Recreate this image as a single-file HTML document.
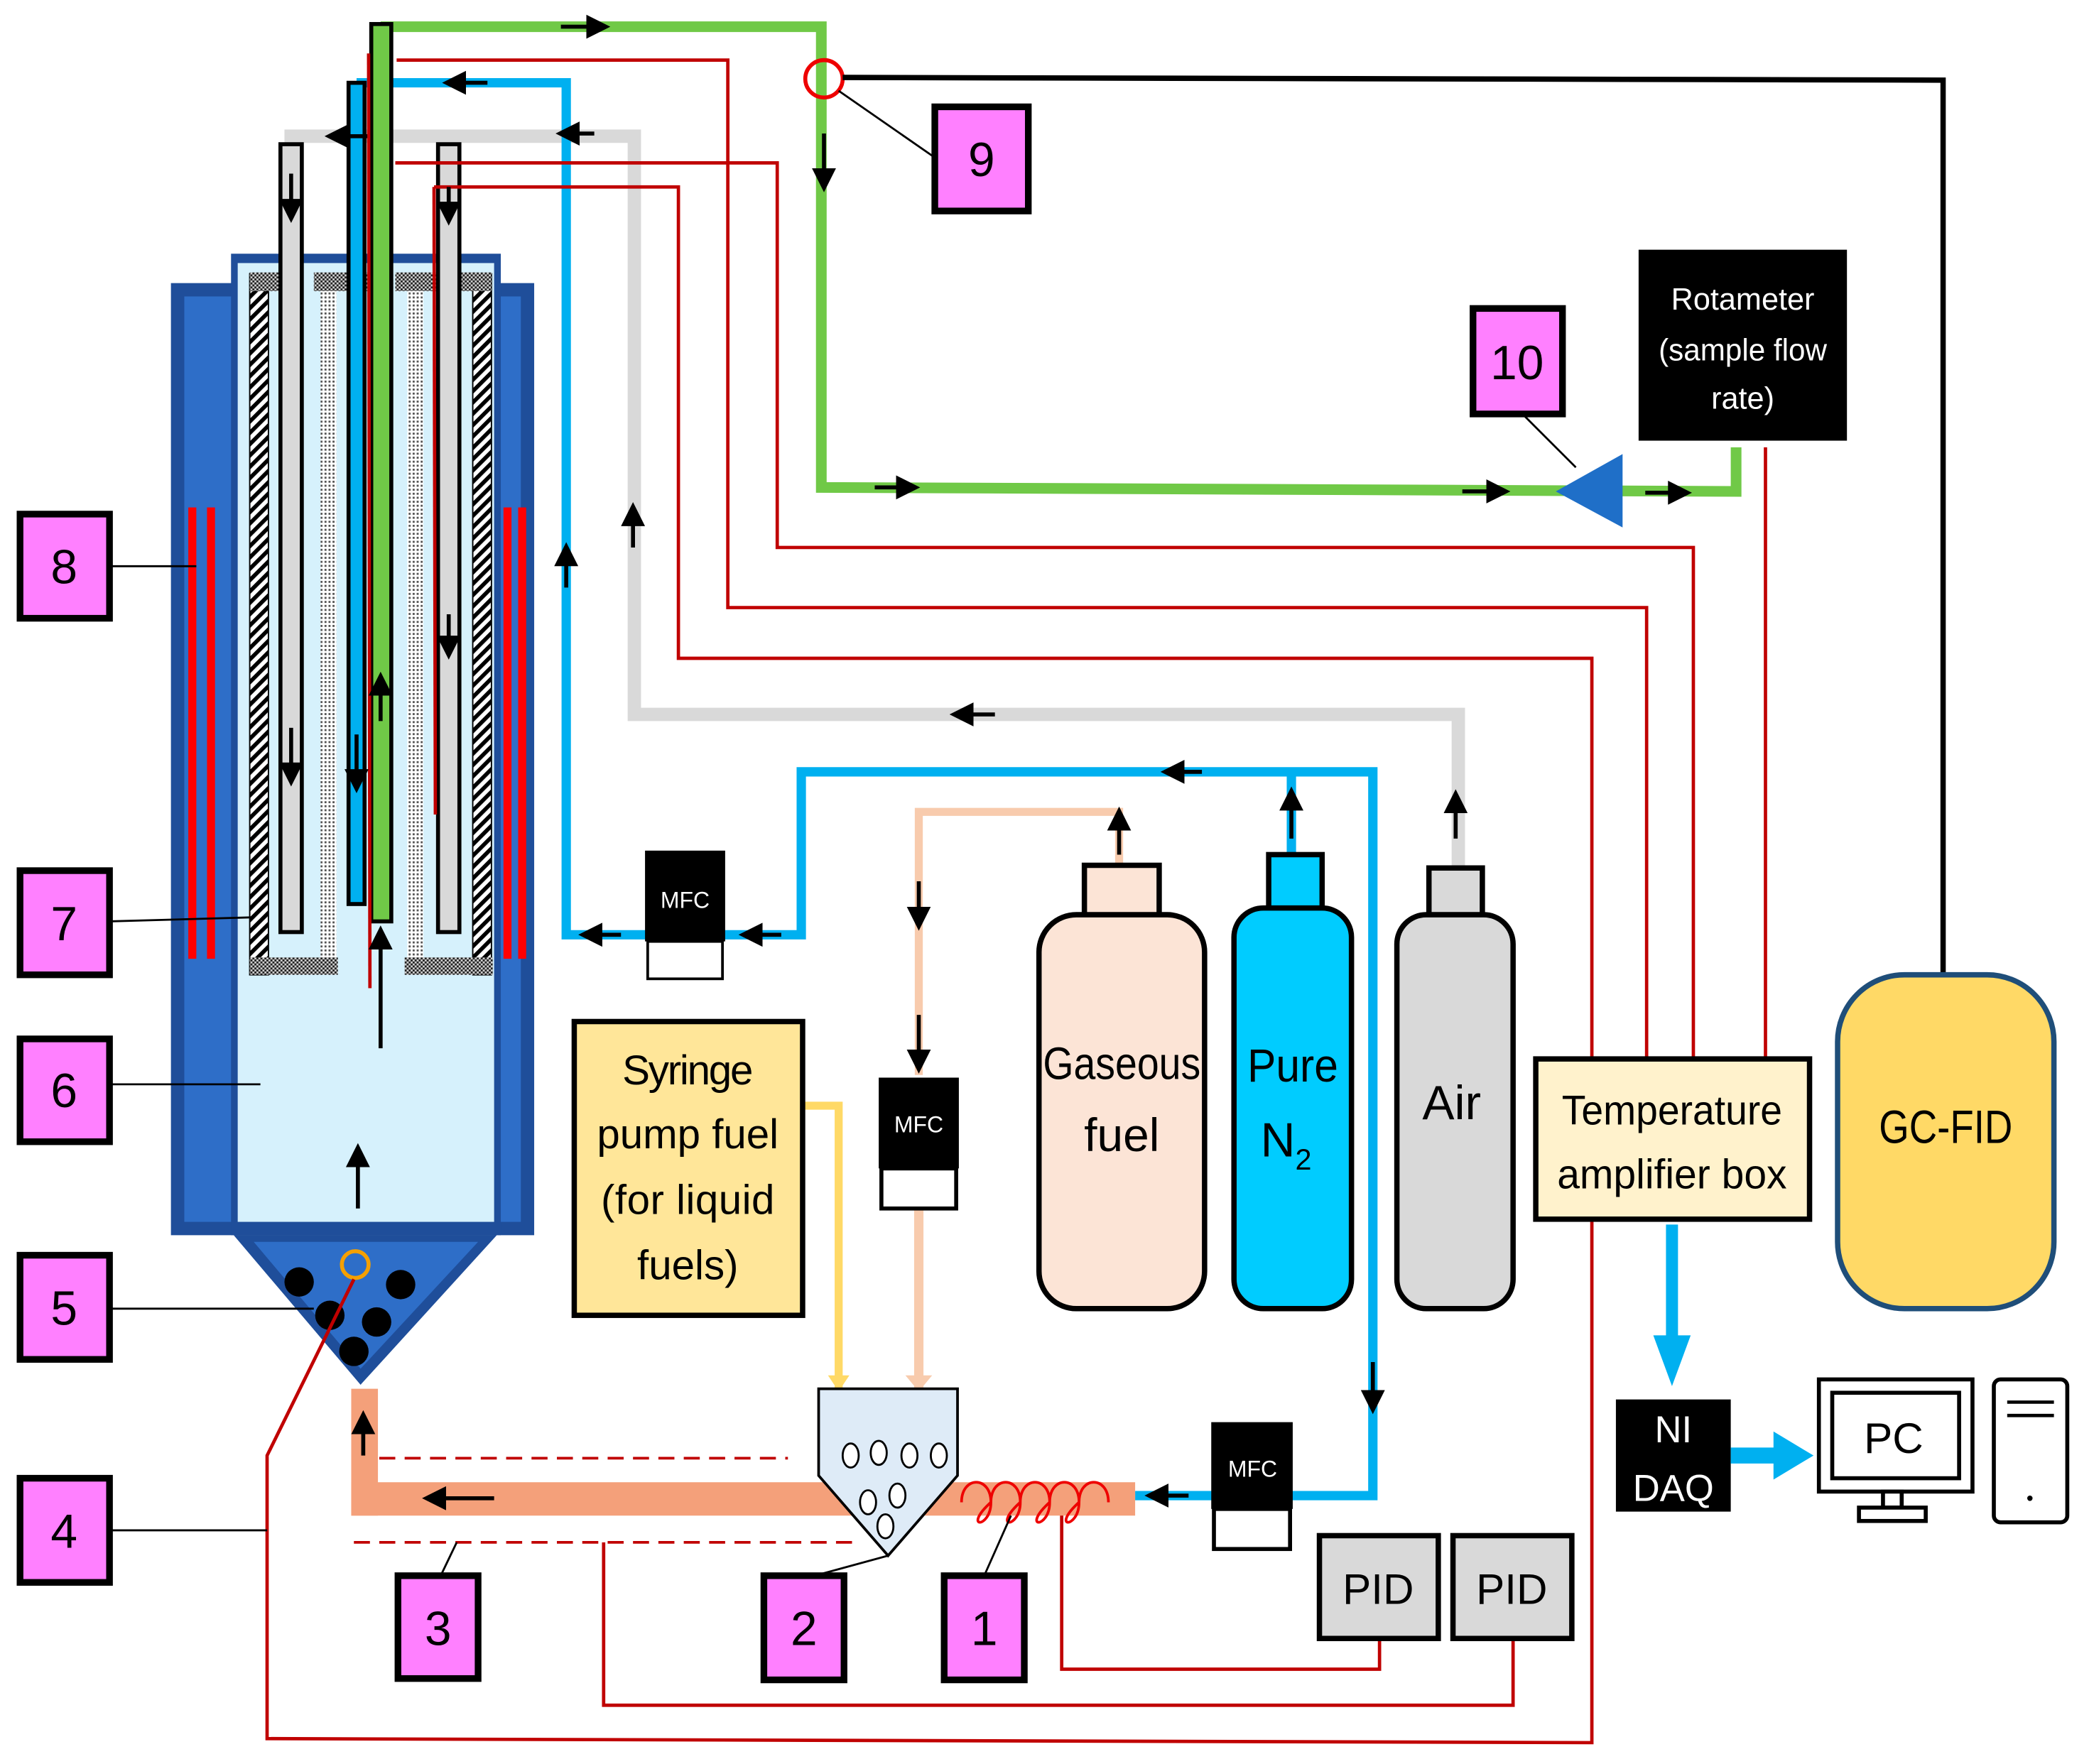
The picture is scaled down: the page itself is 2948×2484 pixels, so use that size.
<!DOCTYPE html>
<html><head><meta charset="utf-8"><style>html,body{margin:0;padding:0;background:#fff}svg{display:block}text{font-family:"Liberation Sans",sans-serif}</style></head><body>
<svg width="2948" height="2484" viewBox="0 0 1568 1321" preserveAspectRatio="none" xmlns="http://www.w3.org/2000/svg">
<defs>
<pattern id="hatch" width="6" height="6" patternUnits="userSpaceOnUse" patternTransform="rotate(45)"><rect width="6" height="6" fill="#fff"/><rect width="3" height="6" fill="#000"/></pattern>
<pattern id="dots" width="3" height="3" patternUnits="userSpaceOnUse"><rect width="3" height="3" fill="#fff"/><rect width="1.5" height="1.5" fill="#555"/></pattern>
<pattern id="chk" width="3" height="3" patternUnits="userSpaceOnUse"><rect width="3" height="3" fill="#ccc"/><rect width="1.5" height="1.5" fill="#222"/><rect x="1.5" y="1.5" width="1.5" height="1.5" fill="#222"/></pattern>
<marker id="ah" markerWidth="6" markerHeight="6" refX="3" refY="3" orient="auto"><path d="M0,0L6,3L0,6z" fill="#000"/></marker>
</defs>
<rect x="128" y="212" width="272" height="713" fill="#1f4e9a"/>
<rect x="138" y="222" width="252" height="693" fill="#2e6ec8"/>
<rect x="173" y="190" width="202" height="735" fill="#1f4e9a"/>
<rect x="178" y="197" width="192" height="718" fill="#d6f1fc"/>
<polygon points="175,925 372,925 270,1037" fill="#1f4e9a"/>
<polygon points="190,930 358,930 270,1025" fill="#2e6ec8"/>
<rect x="141" y="380" width="6" height="338" fill="#f00"/><rect x="155" y="380" width="6" height="338" fill="#f00"/>
<rect x="377" y="380" width="6" height="338" fill="#f00"/><rect x="388" y="380" width="6" height="338" fill="#f00"/>
<circle cx="224" cy="960" r="11"/><circle cx="247" cy="985" r="11"/><circle cx="282" cy="990" r="11"/><circle cx="300" cy="962" r="11"/><circle cx="265" cy="1012" r="11"/>
<circle cx="266" cy="947" r="10" fill="none" stroke="#f5a000" stroke-width="3"/>
<rect x="187" y="205" width="14" height="525" fill="url(#hatch)" stroke="#000"/>
<rect x="354" y="205" width="14" height="525" fill="url(#hatch)" stroke="#000"/>
<rect x="240" y="210" width="12" height="510" fill="url(#dots)"/>
<rect x="305" y="210" width="12" height="510" fill="url(#dots)"/>
<rect x="187" y="717" width="66" height="13" fill="url(#chk)"/>
<rect x="303" y="717" width="66" height="13" fill="url(#chk)"/>
<rect x="187" y="204" width="24" height="14" fill="url(#chk)"/><rect x="235" y="204" width="50" height="14" fill="url(#chk)"/><rect x="296" y="204" width="60" height="14" fill="url(#chk)"/><rect x="352" y="204" width="16" height="14" fill="url(#chk)"/>
<polyline points="213,102 475,102 475,535 1092,535 1092,650" fill="none" stroke="#d9d9d9" stroke-width="10"/>
<rect x="210" y="108" width="16" height="590" fill="#d9d9d9" stroke="#000" stroke-width="3"/>
<rect x="328" y="108" width="16" height="590" fill="#d9d9d9" stroke="#000" stroke-width="3"/>
<polyline points="267,62 424,62 424,700 600,700 600,578 1028,578 1028,1120 850,1120" fill="none" stroke="#00b0f0" stroke-width="7"/>
<line x1="967" y1="578" x2="967" y2="640" stroke="#00b0f0" stroke-width="7"/>
<rect x="261" y="62" width="12" height="615" fill="#00b0f0" stroke="#000" stroke-width="3"/>
<polyline points="285,20 615,20 615,365 1300,368 1300,335" fill="none" stroke="#70c947" stroke-width="8"/>
<rect x="278" y="18" width="15" height="672" fill="#70c947" stroke="#000" stroke-width="3"/>
<polygon points="1165,368 1215,340 1215,395" fill="#1f6fc8"/>
<g fill="none" stroke="#c00000" stroke-width="2.5">
<polyline points="297,45 545,45 545,455 1233,455 1233,795"/>
<polyline points="296,122 582,122 582,410 1268,410 1268,795"/>
<polyline points="325,140 508,140 508,493 1192,493 1192,795"/>
<line x1="325" y1="140" x2="326" y2="610"/>
<line x1="276" y1="40" x2="277" y2="740"/>
<line x1="1322" y1="335" x2="1322" y2="795"/>
<polyline points="1192,913 1192,1305 200,1302 200,1090 265,958"/>
<polyline points="795,1130 795,1250 1033,1250 1033,1228"/>
<polyline points="452,1155 452,1277 1133,1277 1133,1228"/>
</g>
<g stroke="#c00000" stroke-width="2" stroke-dasharray="12,7"><line x1="265" y1="1092" x2="590" y2="1092"/><line x1="265" y1="1155" x2="640" y2="1155"/></g>
<circle cx="617" cy="59" r="14" fill="none" stroke="#e00" stroke-width="3"/>
<polyline points="631,58 1455,60 1455,730" fill="none" stroke="#000" stroke-width="4"/>
<polyline points="838,650 838,608 688,608 688,805" fill="none" stroke="#f8cbad" stroke-width="6"/>
<line x1="688" y1="905" x2="688" y2="1040" stroke="#f8cbad" stroke-width="7"/>
<polyline points="601,828 628,828 628,1040" fill="none" stroke="#ffd966" stroke-width="6"/>
<polygon points="620,1030 636,1030 628,1042" fill="#ffd966"/><polygon points="678,1030 698,1030 688,1042" fill="#f8cbad"/>
<rect x="263" y="1110" width="587" height="25" fill="#f4a07a"/><rect x="263" y="1040" width="20" height="95" fill="#f4a07a"/>
<g fill="none" stroke="#e00" stroke-width="2"><path d="M720,1125 c0,-20 22,-20 22,0 c0,20 -22,20 0,0 c0,-20 22,-20 22,0 c0,20 -22,20 0,0 c0,-20 22,-20 22,0 c0,20 -22,20 0,0 c0,-20 22,-20 22,0 c0,20 -22,20 0,0 c0,-20 22,-20 22,0"/></g>
<polygon points="613,1040 717,1040 717,1105 665,1165 613,1105" fill="#deebf7" stroke="#000" stroke-width="2"/>
<g fill="#fff" stroke="#000" stroke-width="1.5"><ellipse cx="637" cy="1090" rx="6" ry="9"/><ellipse cx="658" cy="1088" rx="6" ry="9"/><ellipse cx="681" cy="1090" rx="6" ry="9"/><ellipse cx="703" cy="1090" rx="6" ry="9"/><ellipse cx="650" cy="1125" rx="6" ry="9"/><ellipse cx="672" cy="1120" rx="6" ry="9"/><ellipse cx="663" cy="1143" rx="6" ry="9"/></g>
<g><rect x="483" y="637" width="60" height="68" fill="#000"/><rect x="485" y="705" width="56" height="28" fill="#fff" stroke="#000" stroke-width="2"/><text x="513" y="680" font-size="17" fill="#fff" text-anchor="middle">MFC</text></g>
<g><rect x="658" y="807" width="60" height="68" fill="#000"/><rect x="660" y="875" width="56" height="30" fill="#fff" stroke="#000" stroke-width="3"/><text x="688" y="848" font-size="17" fill="#fff" text-anchor="middle">MFC</text></g>
<g><rect x="907" y="1065" width="61" height="65" fill="#000"/><rect x="909" y="1130" width="57" height="30" fill="#fff" stroke="#000" stroke-width="3"/><text x="938" y="1106" font-size="17" fill="#fff" text-anchor="middle">MFC</text></g>
<rect x="430" y="765" width="171" height="220" fill="#ffe699" stroke="#000" stroke-width="4"/>
<g font-size="31" text-anchor="middle"><text x="515" y="812" textLength="98">Syringe</text><text x="515" y="860" textLength="136">pump fuel</text><text x="515" y="909" textLength="130">(for liquid</text><text x="515" y="958">fuels)</text></g>
<rect x="812" y="648" width="56" height="40" fill="#fce4d6" stroke="#000" stroke-width="4"/>
<rect x="778" y="685" width="124" height="295" rx="28" fill="#fce4d6" stroke="#000" stroke-width="4"/>
<text x="840" y="808" font-size="34" text-anchor="middle" textLength="118" lengthAdjust="spacingAndGlyphs">Gaseous</text><text x="840" y="862" font-size="35" text-anchor="middle">fuel</text>
<rect x="950" y="640" width="40" height="42" fill="#00ccff" stroke="#000" stroke-width="4"/>
<rect x="924" y="680" width="88" height="300" rx="22" fill="#00ccff" stroke="#000" stroke-width="4"/>
<text x="968" y="810" font-size="35" text-anchor="middle" textLength="68" lengthAdjust="spacingAndGlyphs">Pure</text><text x="963" y="866" font-size="36" text-anchor="middle">N<tspan font-size="22" dy="10">2</tspan></text>
<rect x="1070" y="650" width="40" height="36" fill="#d9d9d9" stroke="#000" stroke-width="4"/>
<rect x="1046" y="685" width="87" height="295" rx="22" fill="#d9d9d9" stroke="#000" stroke-width="4"/>
<text x="1087" y="838" font-size="36" text-anchor="middle">Air</text>
<rect x="1150" y="793" width="205" height="120" fill="#fff2cc" stroke="#000" stroke-width="4"/>
<text x="1252" y="842" font-size="31" text-anchor="middle" textLength="165" lengthAdjust="spacingAndGlyphs">Temperature</text><text x="1252" y="890" font-size="31" text-anchor="middle" textLength="172" lengthAdjust="spacingAndGlyphs">amplifier box</text>
<rect x="1376" y="730" width="162" height="250" rx="50" fill="#ffd966" stroke="#1f4e79" stroke-width="4"/>
<text x="1457" y="856" font-size="35" text-anchor="middle" textLength="100" lengthAdjust="spacingAndGlyphs">GC-FID</text>
<rect x="1227" y="187" width="156" height="143" fill="#000"/>
<g fill="#fff" font-size="23" text-anchor="middle"><text x="1305" y="232">Rotameter</text><text x="1305" y="270" textLength="126" lengthAdjust="spacingAndGlyphs">(sample flow</text><text x="1305" y="306">rate)</text></g>
<line x1="1252" y1="917" x2="1252" y2="1005" stroke="#00b0f0" stroke-width="9"/><polygon points="1238,1000 1266,1000 1252,1038" fill="#00b0f0"/>
<rect x="1210" y="1048" width="86" height="84" fill="#000"/>
<text x="1253" y="1080" font-size="28" fill="#fff" text-anchor="middle">NI</text><text x="1253" y="1124" font-size="28" fill="#fff" text-anchor="middle">DAQ</text>
<line x1="1296" y1="1090" x2="1332" y2="1090" stroke="#00b0f0" stroke-width="12"/><polygon points="1328,1072 1358,1090 1328,1108" fill="#00b0f0"/>
<rect x="1362" y="1033" width="115" height="84" fill="#fff" stroke="#000" stroke-width="3"/><rect x="1372" y="1043" width="95" height="64" fill="#fff" stroke="#000" stroke-width="3"/>
<text x="1418" y="1088" font-size="32" text-anchor="middle">PC</text>
<rect x="1410" y="1117" width="14" height="12" fill="#fff" stroke="#000" stroke-width="3"/><rect x="1392" y="1129" width="50" height="10" fill="#fff" stroke="#000" stroke-width="3"/>
<rect x="1493" y="1033" width="55" height="107" rx="5" fill="#fff" stroke="#000" stroke-width="3"/>
<line x1="1503" y1="1050" x2="1538" y2="1050" stroke="#000" stroke-width="2.5"/><line x1="1503" y1="1060" x2="1538" y2="1060" stroke="#000" stroke-width="2.5"/><circle cx="1520" cy="1122" r="2"/>
<rect x="988" y="1150" width="89" height="77" fill="#d9d9d9" stroke="#000" stroke-width="4"/><text x="1032" y="1201" font-size="32" text-anchor="middle">PID</text>
<rect x="1088" y="1150" width="89" height="77" fill="#d9d9d9" stroke="#000" stroke-width="4"/><text x="1132" y="1201" font-size="32" text-anchor="middle">PID</text>
<g stroke="#000" stroke-width="1.5">
<line x1="82" y1="424" x2="147" y2="424"/><line x1="82" y1="690" x2="188" y2="687"/><line x1="82" y1="812" x2="195" y2="812"/><line x1="82" y1="980" x2="235" y2="980"/><line x1="82" y1="1146" x2="200" y2="1146"/>
<line x1="330" y1="1180" x2="342" y2="1155"/><line x1="610" y1="1180" x2="665" y2="1165"/><line x1="737" y1="1180" x2="757" y2="1135"/>
<line x1="700" y1="118" x2="628" y2="68"/><line x1="1140" y1="310" x2="1180" y2="350"/>
</g>
<g fill="#ff80ff" stroke="#000" stroke-width="5">
<rect x="15" y="385" width="67" height="78"/><rect x="15" y="652" width="67" height="78"/><rect x="15" y="778" width="67" height="77"/><rect x="15" y="940" width="67" height="78"/><rect x="15" y="1107" width="67" height="78"/>
<rect x="298" y="1180" width="60" height="77"/><rect x="572" y="1180" width="60" height="78"/><rect x="707" y="1180" width="60" height="78"/>
<rect x="700" y="80" width="70" height="78"/><rect x="1103" y="231" width="67" height="79"/></g>
<g font-size="36" text-anchor="middle">
<text x="48" y="437">8</text><text x="48" y="704">7</text><text x="48" y="829">6</text><text x="48" y="992">5</text><text x="48" y="1159">4</text>
<text x="328" y="1232">3</text><text x="602" y="1232">2</text><text x="737" y="1232">1</text><text x="735" y="132">9</text><text x="1136" y="284">10</text></g>
<g stroke="#000" stroke-width="3" marker-end="url(#ah)">
<line x1="420" y1="20" x2="448" y2="20"/><line x1="365" y1="62" x2="340" y2="62"/><line x1="445" y1="100" x2="425" y2="100"/><line x1="275" y1="102" x2="252" y2="102"/>
<line x1="617" y1="100" x2="617" y2="135"/><line x1="655" y1="365" x2="680" y2="365"/><line x1="1095" y1="368" x2="1122" y2="368"/><line x1="1232" y1="369" x2="1258" y2="369"/>
<line x1="424" y1="440" x2="424" y2="415"/><line x1="474" y1="410" x2="474" y2="385"/><line x1="745" y1="535" x2="720" y2="535"/><line x1="1090" y1="628" x2="1090" y2="600"/>
<line x1="900" y1="578" x2="878" y2="578"/><line x1="967" y1="628" x2="967" y2="598"/><line x1="838" y1="640" x2="838" y2="613"/><line x1="688" y1="660" x2="688" y2="688"/><line x1="688" y1="760" x2="688" y2="795"/>
<line x1="585" y1="700" x2="562" y2="700"/><line x1="465" y1="700" x2="442" y2="700"/><line x1="1028" y1="1020" x2="1028" y2="1050"/><line x1="890" y1="1120" x2="866" y2="1120"/>
<line x1="370" y1="1122" x2="325" y2="1122"/><line x1="272" y1="1090" x2="272" y2="1065"/><line x1="268" y1="905" x2="268" y2="865"/><line x1="285" y1="785" x2="285" y2="702"/>
<line x1="218" y1="130" x2="218" y2="158"/><line x1="218" y1="545" x2="218" y2="580"/><line x1="336" y1="140" x2="336" y2="160"/><line x1="336" y1="460" x2="336" y2="485"/><line x1="267" y1="550" x2="267" y2="585"/><line x1="285" y1="540" x2="285" y2="512"/>
</g>
</svg>
</body></html>
